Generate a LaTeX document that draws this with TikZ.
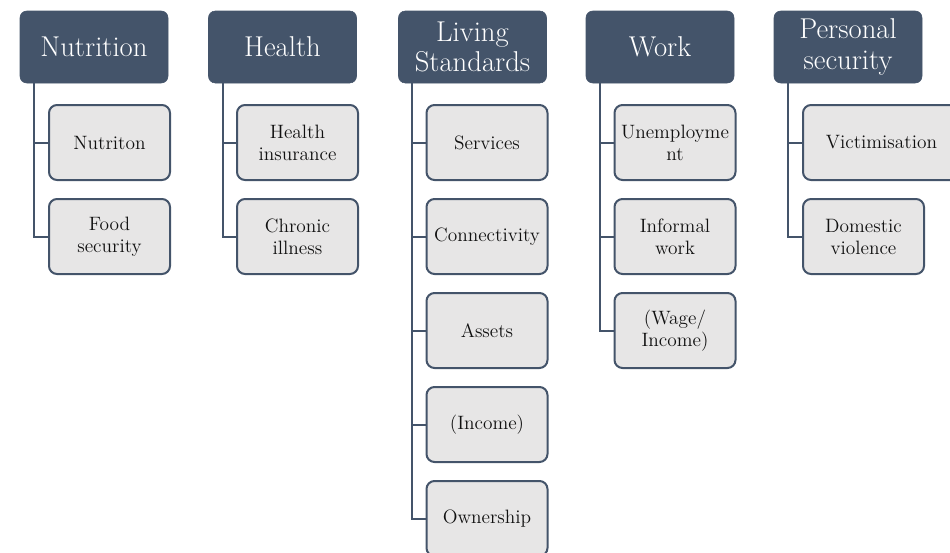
\documentclass[tikz,border=0pt]{standalone}
\usepackage{fontspec}
\usetikzlibrary{positioning}
\definecolor{slate}{HTML}{44546A}
\definecolor{paleg}{HTML}{E7E6E6}
\definecolor{inkc}{HTML}{111111}
\tikzset{
  dimbox/.style={draw=slate, fill=slate, text=white, rounded corners=5pt, minimum width=111pt, minimum height=54pt, align=center, inner sep=2pt, font=\fontsize{21.5}{23}\selectfont},
  indbox/.style={draw=slate, line width=1.5pt, fill=paleg, text=inkc, rounded corners=6pt, minimum width=90.75pt, minimum height=56.25pt, text width=86pt, align=center, inner sep=0pt, font=\fontsize{14.5}{16.5}\selectfont},
  link/.style={draw=slate, line width=1.5pt}
}
\begin{document}
\begin{tikzpicture}[x=0.75pt, y=-0.75pt]
\useasboundingbox (0,0) rectangle (950,553);
% dimensions
\node[dimbox] (nut) at (94,47) {Nutrition};
\node[dimbox] (hea) at (282.5,47) {Health};
\node[dimbox] (liv) at (472.5,47) {Living\\Standards};
\node[dimbox] (wrk) at (660,47) {Work};
\node[dimbox] (sec) at (848,47) {Personal\\security};
% indicators
\node[indbox] (nut1) at (109.5,142.5) {Nutriton};
\node[indbox] (nut2) at (109.5,236.5) {Food\\security};
\node[indbox] (hea1) at (297.5,142.5) {Health\\insurance};
\node[indbox] (hea2) at (297.5,236.5) {Chronic\\illness};
\node[indbox] (liv1) at (487,142.5) {Services};
\node[indbox] (liv2) at (487,236.5) {Connectivity};
\node[indbox] (liv3) at (487,330.5) {Assets};
\node[indbox] (liv4) at (487,424.5) {(Income)};
\node[indbox] (liv5) at (487,518.5) {Ownership};
\node[indbox] (wrk1) at (675,142.5) {Unemployme\\nt};
\node[indbox] (wrk2) at (675,236.5) {Informal\\work};
\node[indbox] (wrk3) at (675,330.5) {(Wage/\\Income)};
\node[indbox, minimum width=117.75pt, text width=112pt] (sec1) at (881.5,142.5) {Victimisation};
\node[indbox] (sec2) at (863.5,236.5) {Domestic\\violence};
% connectors
\foreach \k in {nut1,nut2} \draw[link] ([xshift=11pt]nut.south west) |- (\k.west);
\foreach \k in {hea1,hea2} \draw[link] ([xshift=11pt]hea.south west) |- (\k.west);
\foreach \k in {liv1,liv2,liv3,liv4,liv5} \draw[link] ([xshift=10pt]liv.south west) |- (\k.west);
\foreach \k in {wrk1,wrk2,wrk3} \draw[link] ([xshift=10.5pt]wrk.south west) |- (\k.west);
\foreach \k in {sec1,sec2} \draw[link] ([xshift=11pt]sec.south west) |- (\k.west);
\end{tikzpicture}
\end{document}
